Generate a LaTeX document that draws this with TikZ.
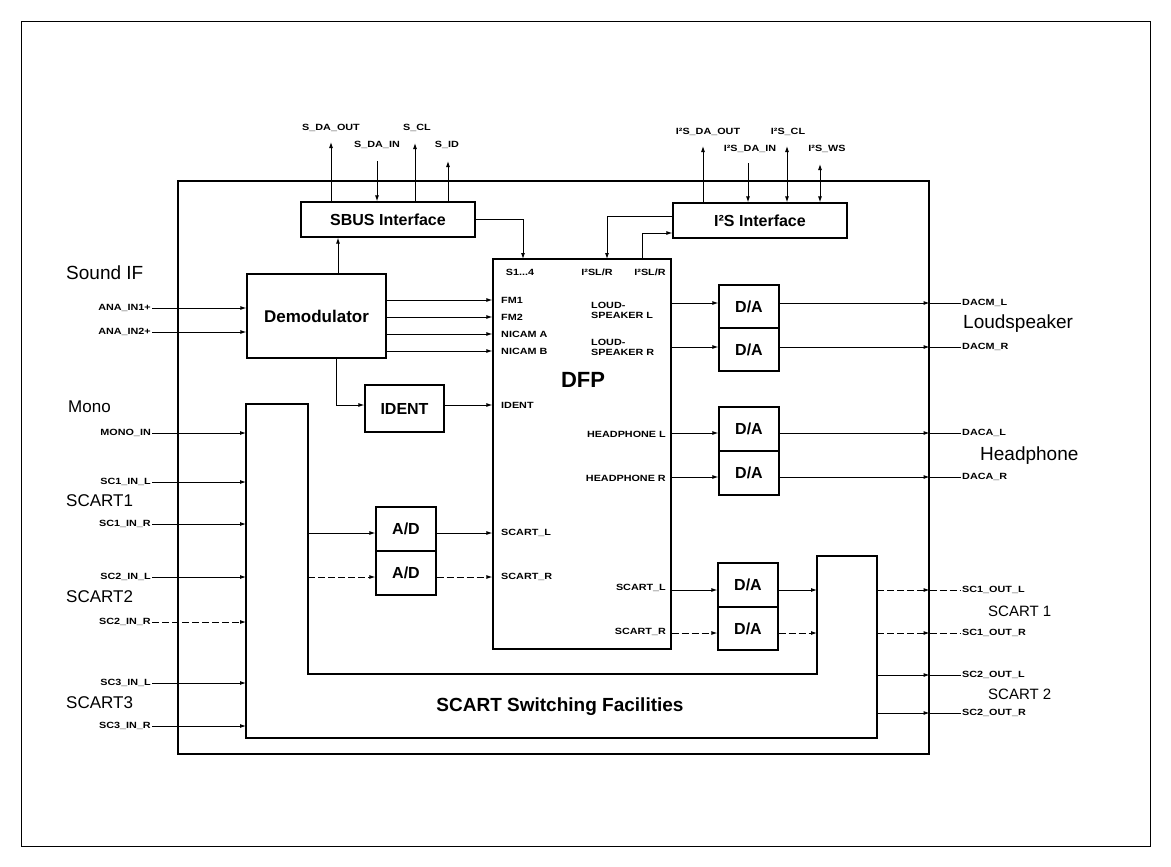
\documentclass[tikz,border=0pt]{standalone}
\usepackage{fontspec}
\setmainfont{Liberation Sans}
\newfontfamily\widefont[FakeStretch=1.2]{Liberation Sans}
\usetikzlibrary{arrows.meta}
\tikzset{
  wire/.style={line width=0.9pt},
  arr/.style={wire,-{Latex[length=6pt,width=4pt]}},
  barr/.style={wire,{Latex[length=6pt,width=4pt]}-{Latex[length=6pt,width=4pt]}},
  dsh/.style={dash pattern=on 7pt off 3pt},
  boxline/.style={line width=1.3pt},
  box/.style={draw,boxline,inner sep=0pt,font=\bfseries\fontsize{16}{18}\selectfont},
  sl/.style={font=\widefont\bfseries\fontsize{9}{10}\selectfont,inner sep=1pt},
  big/.style={font=\fontsize{19}{22}\selectfont,inner sep=0pt,anchor=west},
  mid/.style={font=\fontsize{17}{20}\selectfont,inner sep=0pt,anchor=west},
}
\begin{document}
\begin{tikzpicture}[x=1pt,y=-1pt]
\useasboundingbox (0,0) rectangle (1171,867);
\draw[line width=0.8pt] (21,21) rectangle (1150,846);
% chip boundary
\node[draw,line width=1.1pt,minimum width=751,minimum height=573,inner sep=0pt] (chip) at (553.5,467.5) {};
% boxes
\node[box,minimum width=174,minimum height=35] (sbus) at (388,219.5) {SBUS Interface};
\node[box,minimum width=174,minimum height=35] (i2s) at (760,220.5) {I²S Interface};
\node[box,minimum width=139,minimum height=84,font=\bfseries\fontsize{17}{20}\selectfont] (demod) at (316.5,316) {Demodulator};
\node[box,minimum width=178,minimum height=390] (dfp) at (582,454) {};
\node[font=\bfseries\fontsize{22}{24}\selectfont,inner sep=0pt] (dfpt) at (583,380) {DFP};
\node[box,minimum width=79,minimum height=47] (ident) at (404.5,408.5) {IDENT};
\node[box,minimum width=60,minimum height=44] (ad1) at (406,529) {A/D};
\node[box,minimum width=60,minimum height=44] (ad2) at (406,573) {A/D};
\node[box,minimum width=60,minimum height=43] (da1) at (749,306.5) {D/A};
\node[box,minimum width=60,minimum height=43] (da2) at (749,349.5) {D/A};
\node[box,minimum width=60,minimum height=44] (da3) at (749,429) {D/A};
\node[box,minimum width=60,minimum height=44] (da4) at (749,473) {D/A};
\node[box,minimum width=60,minimum height=44] (da5) at (748,585) {D/A};
\node[box,minimum width=60,minimum height=43] (da6) at (748,628.5) {D/A};
% switching facilities
\coordinate (swa) at (246,404);
\coordinate (swb) at (308,404);
\coordinate (swc) at (817,556);
\coordinate (swd) at (877,556);
\draw[boxline] (swa) -- (swb) -- (swb |- 0,674) -- (swc |- 0,674) -- (swc) -- (swd) -- (swd |- 0,738) -- (swa |- 0,738) -- cycle;
\node[font=\bfseries\fontsize{19}{22}\selectfont,inner sep=0pt] (swt) at (560,707) {SCART Switching Facilities};

% SBUS pins
\coordinate (p1) at (331,142);
\coordinate (p2) at (377,161);
\coordinate (p3) at (415,143);
\coordinate (p4) at (448,161);
\draw[arr] (p1 |- sbus.north) -- (p1);
\draw[arr] (p2) -- (p2 |- sbus.north);
\draw[arr] (p3 |- sbus.north) -- (p3);
\draw[arr] (p4 |- sbus.north) -- (p4);
\node[sl] (l1) at (331,128) {S\_DA\_OUT};
\node[sl] (l2) at (377,145) {S\_DA\_IN};
\node[sl] (l3) at (417,128) {S\_CL};
\node[sl] (l4) at (447,145) {S\_ID};
% I2S pins
\coordinate (q1) at (703,146);
\coordinate (q2) at (748,163);
\coordinate (q3) at (787,146);
\coordinate (q4) at (820,164);
\draw[arr] (q1 |- i2s.north) -- (q1);
\draw[arr] (q2) -- (q2 |- i2s.north);
\draw[barr] (q3 |- i2s.north) -- (q3);
\draw[barr] (q4 |- i2s.north) -- (q4);
\node[sl] (m1) at (708,132) {I²S\_DA\_OUT};
\node[sl] (m2) at (750,149) {I²S\_DA\_IN};
\node[sl] (m3) at (788,132) {I²S\_CL};
\node[sl] (m4) at (827,149) {I²S\_WS};

% SBUS / I2S to DFP
\coordinate (s14) at (523,259);
\coordinate (i2a) at (607,259);
\coordinate (i2b) at (642,259);
\draw[arr] (sbus.east) -| (s14);
\draw[arr] (i2s.west |- 0,216) -| (i2a);
\draw[arr] (i2b) |- (i2s.west |- 0,233);
\draw[arr] (demod.north -| 338,0) -- (sbus.south -| 338,0);

% DFP labels
\node[sl] (t1) at (520,272) {S1...4};
\node[sl] (t2) at (597,272) {I²SL/R};
\node[sl] (t3) at (650,272) {I²SL/R};
\node[sl,anchor=west] (f1) at (500,300) {FM1};
\node[sl,anchor=west] (f2) at (500,317) {FM2};
\node[sl,anchor=west] (f3) at (500,334) {NICAM A};
\node[sl,anchor=west] (f4) at (500,351) {NICAM B};
\node[sl,anchor=west] (f5) at (500,405) {IDENT};
\node[sl,anchor=west] (f6) at (500,533) {SCART\_L};
\node[sl,anchor=west] (f7) at (500,577) {SCART\_R};
\node[sl,anchor=west,align=left] (r1) at (590,310) {LOUD-\\SPEAKER L};
\node[sl,anchor=west,align=left] (r2) at (590,347) {LOUD-\\SPEAKER R};
\node[sl,anchor=east] (r3) at (667,434) {HEADPHONE L};
\node[sl,anchor=east] (r4) at (667,478) {HEADPHONE R};
\node[sl,anchor=east] (r5) at (667,588) {SCART\_L};
\node[sl,anchor=east] (r6) at (667,632) {SCART\_R};

% demod to DFP
\draw[arr] (demod.east |- 0,300) -- (dfp.west |- 0,300);
\draw[arr] (demod.east |- 0,317) -- (dfp.west |- 0,317);
\draw[arr] (demod.east |- 0,334) -- (dfp.west |- 0,334);
\draw[arr] (demod.east |- 0,351) -- (dfp.west |- 0,351);
\draw[arr] (demod.south -| 336,0) |- (ident.west |- 0,405);
\draw[arr] (ident.east |- 0,405) -- (dfp.west |- 0,405);
% A/D
\draw[arr] (swb |- 0,533) -- (ad1.west |- 0,533);
\draw[arr,dsh] (swb |- 0,577) -- (ad2.west |- 0,577);
\draw[arr] (ad1.east |- 0,533) -- (dfp.west |- 0,533);
\draw[arr,dsh] (ad2.east |- 0,577) -- (dfp.west |- 0,577);
% DFP to D/A
\draw[arr] (dfp.east |- 0,303) -- (da1.west |- 0,303);
\draw[arr] (dfp.east |- 0,347) -- (da2.west |- 0,347);
\draw[arr] (dfp.east |- 0,433) -- (da3.west |- 0,433);
\draw[arr] (dfp.east |- 0,477) -- (da4.west |- 0,477);
\draw[arr] (dfp.east |- 0,590) -- (da5.west |- 0,590);
\draw[arr,dsh] (dfp.east |- 0,633) -- (da6.west |- 0,633);
\draw[arr] (da5.east |- 0,590) -- (swc |- 0,590);
\draw[arr,dsh] (da6.east |- 0,633) -- (swc |- 0,633);

% right outputs
\node[sl,anchor=west] (o1) at (961,303) {DACM\_L};
\node[sl,anchor=west] (o2) at (961,347) {DACM\_R};
\node[sl,anchor=west] (o3) at (961,433) {DACA\_L};
\node[sl,anchor=west] (o4) at (961,477) {DACA\_R};
\node[sl,anchor=west] (o5) at (961,590) {SC1\_OUT\_L};
\node[sl,anchor=west] (o6) at (961,633) {SC1\_OUT\_R};
\node[sl,anchor=west] (o7) at (961,675) {SC2\_OUT\_L};
\node[sl,anchor=west] (o8) at (961,713) {SC2\_OUT\_R};
\draw[arr] (da1.east |- 0,303) -- (chip.east |- 0,303);
\draw[wire] (chip.east |- 0,303) -- (o1.west);
\draw[arr] (da2.east |- 0,347) -- (chip.east |- 0,347);
\draw[wire] (chip.east |- 0,347) -- (o2.west);
\draw[arr] (da3.east |- 0,433) -- (chip.east |- 0,433);
\draw[wire] (chip.east |- 0,433) -- (o3.west);
\draw[arr] (da4.east |- 0,477) -- (chip.east |- 0,477);
\draw[wire] (chip.east |- 0,477) -- (o4.west);
\draw[arr,dsh] (swd |- 0,590) -- (chip.east |- 0,590);
\draw[wire,dsh] (chip.east |- 0,590) -- (o5.west);
\draw[arr,dsh] (swd |- 0,633) -- (chip.east |- 0,633);
\draw[wire,dsh] (chip.east |- 0,633) -- (o6.west);
\draw[arr] (swd |- 0,675) -- (chip.east |- 0,675);
\draw[wire] (chip.east |- 0,675) -- (o7.west);
\draw[arr] (swd |- 0,713) -- (chip.east |- 0,713);
\draw[wire] (chip.east |- 0,713) -- (o8.west);
\node[big] (g1) at (963,324) {Loudspeaker};
\node[big] (g2) at (980,456) {Headphone};
\node[font=\fontsize{15}{18}\selectfont,inner sep=0pt,anchor=west] (g3) at (988,611) {SCART 1};
\node[font=\fontsize{15}{18}\selectfont,inner sep=0pt,anchor=west] (g4) at (988,694) {SCART 2};

% left inputs
\node[big] (h1) at (66,273) {Sound IF};
\node[mid] (h2) at (68,407) {Mono};
\node[mid] (h3) at (66,501) {SCART1};
\node[mid] (h4) at (66,597) {SCART2};
\node[mid] (h5) at (66,703) {SCART3};
\node[sl,anchor=east] (i1) at (152,308) {ANA\_IN1+};
\node[sl,anchor=east] (i2) at (152,332) {ANA\_IN2+};
\node[sl,anchor=east] (i3) at (152,433) {MONO\_IN};
\node[sl,anchor=east] (i4) at (152,482) {SC1\_IN\_L};
\node[sl,anchor=east] (i5) at (152,524) {SC1\_IN\_R};
\node[sl,anchor=east] (i6) at (152,577) {SC2\_IN\_L};
\node[sl,anchor=east] (i7) at (152,622) {SC2\_IN\_R};
\node[sl,anchor=east] (i8) at (152,683) {SC3\_IN\_L};
\node[sl,anchor=east] (i9) at (152,726) {SC3\_IN\_R};
\draw[arr] (i1.east) -- (i1.east -| demod.west);
\draw[arr] (i2.east) -- (i2.east -| demod.west);
\draw[arr] (i3.east) -- (i3.east -| swa);
\draw[arr] (i4.east) -- (i4.east -| swa);
\draw[arr] (i5.east) -- (i5.east -| swa);
\draw[arr] (i6.east) -- (i6.east -| swa);
\draw[arr,dsh] (i7.east) -- (i7.east -| swa);
\draw[arr] (i8.east) -- (i8.east -| swa);
\draw[arr] (i9.east) -- (i9.east -| swa);
\end{tikzpicture}
\end{document}
